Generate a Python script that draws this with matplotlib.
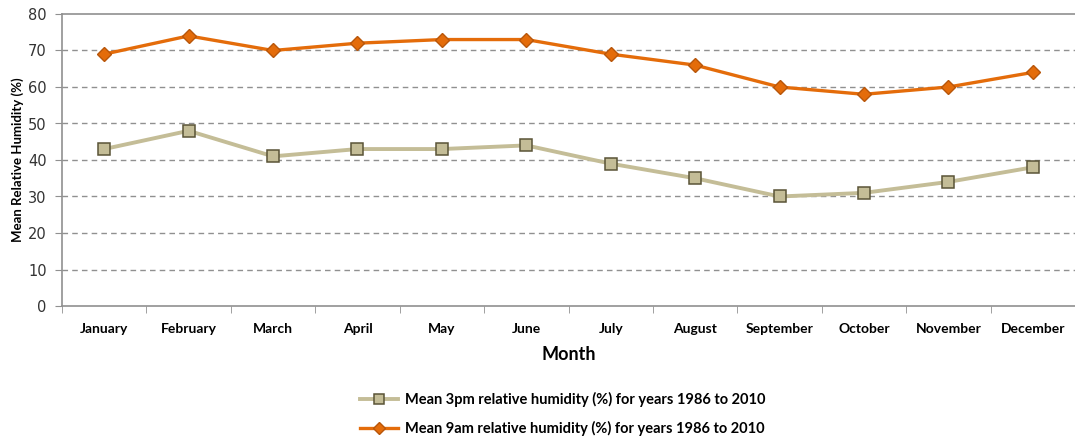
import matplotlib
matplotlib.use("Agg")
import matplotlib.pyplot as plt
import numpy as np

months = ["January", "February", "March", "April", "May", "June", "July",
          "August", "September", "October", "November", "December"]
rh_3pm = [43, 48, 41, 43, 43, 44, 39, 35, 30, 31, 34, 38]
rh_9am = [69, 74, 70, 72, 73, 73, 69, 66, 60, 58, 60, 64]
y_ticks = [0, 10, 20, 30, 40, 50, 60, 70, 80]

plt.rcParams['font.family'] = ['Lato', 'DejaVu Sans']

fig = plt.figure(figsize=(10.75, 4.36), dpi=100)
ax = fig.add_axes([62/1075, 1-306/436, 1-62/1075, (306-14)/436])

x = np.arange(len(months))
ax.plot(x, rh_3pm, color="#C4BD97", lw=2.8, marker="s", ms=8.5,
        mfc="#C4BD97", mec="#5a5437", mew=1.1,
        label="Mean 3pm relative humidity (%) for years 1986 to 2010", zorder=3)
ax.plot(x, rh_9am, color="#E46C0A", lw=2.4, marker="D", ms=7,
        mfc="#E46C0A", mec="#B8560A", mew=1.0,
        label="Mean 9am relative humidity (%) for years 1986 to 2010", zorder=4)

ax.set_xlim(-0.5, len(months) - 0.5)
ax.set_ylim(0, 80)
ax.set_yticks(y_ticks)
ax.set_yticklabels([str(v) for v in y_ticks], fontsize=10.5, family="DejaVu Sans", color="#333333")
for v in y_ticks[1:-1]:
    ax.axhline(v, color="#909090", lw=1, ls=(0, (4, 3)), zorder=1)

ax.set_xticks(x)
ax.set_xticklabels(months, fontsize=10, fontweight="bold")
ax.set_xticks(np.arange(-0.5, len(months)), minor=True)
ax.tick_params(axis="x", which="major", length=0, pad=12)
ax.tick_params(axis="x", which="minor", length=5, color="#909090", direction="out")
ax.tick_params(axis="y", length=5, color="#909090", direction="out", pad=6)

for side in ["left", "bottom", "top"]:
    ax.spines[side].set_color("#909090")
    ax.spines[side].set_linewidth(1.2)
ax.spines["right"].set_visible(False)

ax.set_xlabel("Month", fontsize=13, fontweight="bold", labelpad=8)
ax.set_ylabel("Mean Relative Humidity (%)", fontsize=9.5, fontweight="bold", labelpad=3)

fig.legend(loc="center", bbox_to_anchor=(563/1075, 1-414/436), ncol=1, frameon=False,
           handlelength=2.6, labelspacing=1.0, markerscale=0.85, handletextpad=0.5,
           prop={"weight": "bold", "size": 10.5})

fig.savefig("out.png", dpi=100)
